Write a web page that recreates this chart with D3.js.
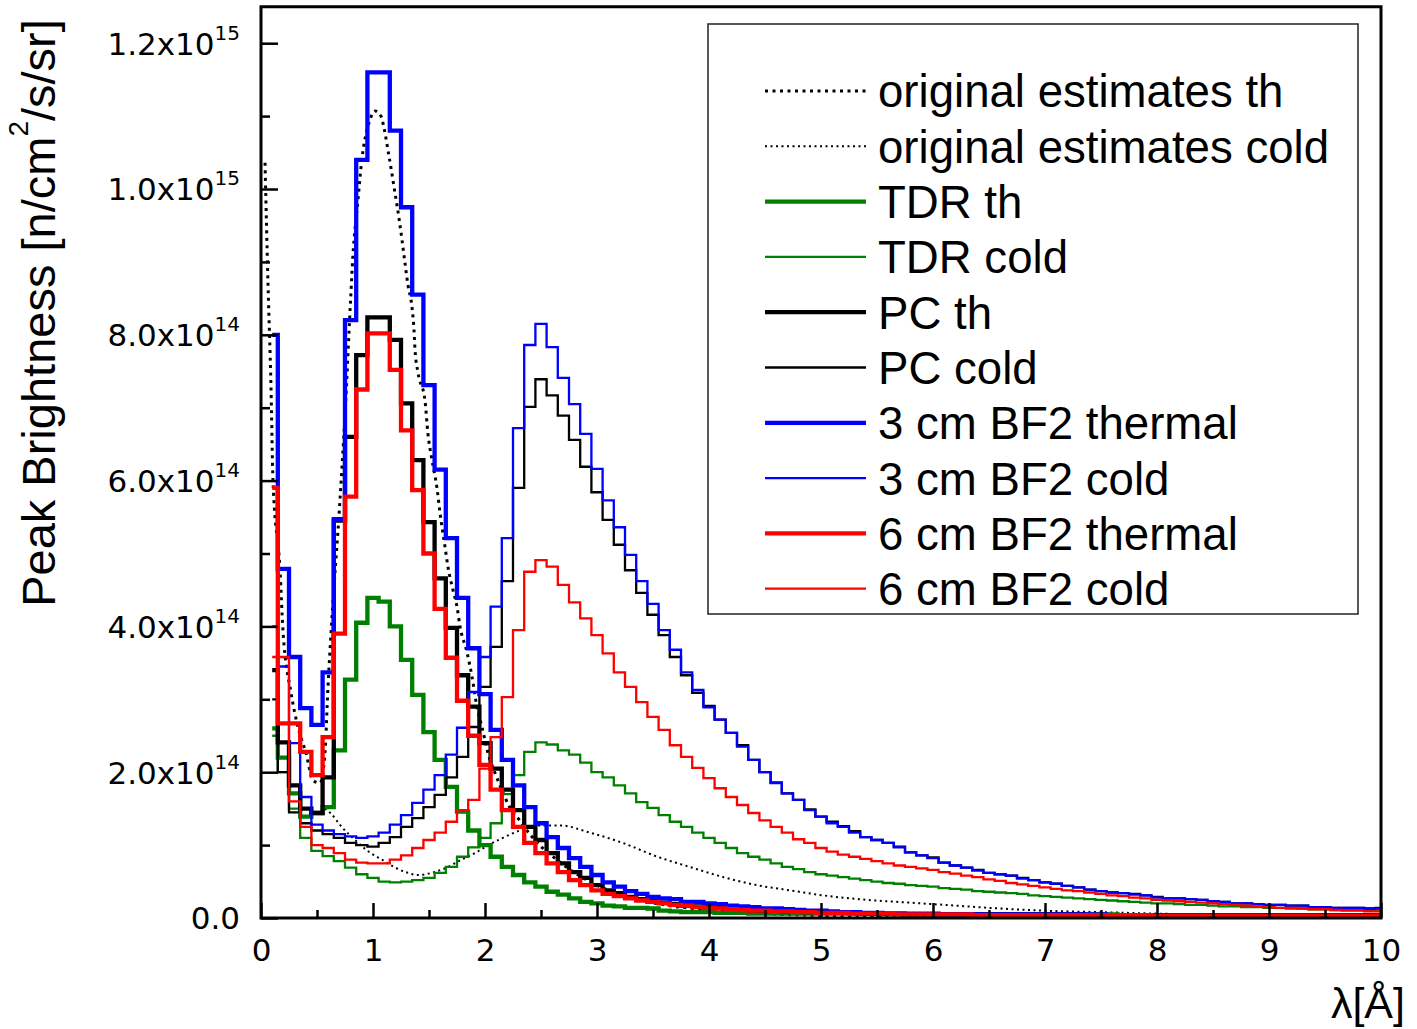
<!DOCTYPE html>
<html><head><meta charset="utf-8">
<script src="https://cdn.jsdelivr.net/npm/d3@7"></script>
<style>body{margin:0;background:#fff;} svg{display:block}</style>
</head><body>
<svg id="chart" width="1417" height="1029"></svg>
<script>
// ---------- DATA (values in units of 1e14 n/cm2/s/sr) ----------
// histogram bin centres: 0.1 ... 10.0 Angstrom
const binLambda = d3.range(1, 101).map(i => i / 10);

const tdrTh = [
 2.6, 2.2, 1.71, 1.39, 1.44, 1.52, 2.3, 3.27, 4.05,
 4.39, 4.34, 4.0, 3.54, 3.06, 2.55, 2.17, 1.8, 1.46, 1.2,
 1.0, 0.84, 0.7, 0.59, 0.49, 0.43, 0.36, 0.32, 0.27, 0.22,
 0.2, 0.17, 0.16, 0.14, 0.14, 0.13, 0.1, 0.09, 0.08, 0.08,
 0.08, 0.07, 0.07, 0.07, 0.06, 0.06, 0.06, 0.06, 0.06, 0.06,
 0.06, 0.06, 0.06, 0.06, 0.06, 0.06, 0.05, 0.05, 0.05, 0.05,
 0.05, 0.05, 0.05, 0.05, 0.05, 0.05, 0.05, 0.05, 0.05, 0.05,
 0.05, 0.05, 0.05, 0.05, 0.05, 0.05, 0.05, 0.04, 0.04, 0.04,
 0.04, 0.04, 0.04, 0.04, 0.04, 0.04, 0.04, 0.04, 0.04, 0.04,
 0.04, 0.04, 0.04, 0.04, 0.04, 0.04, 0.04, 0.04, 0.04, 0.04,
 0.04];
const tdrCold = [
 2.5, 2.0, 1.5, 1.1, 0.92, 0.85, 0.78, 0.69, 0.6,
 0.55, 0.5, 0.49, 0.5, 0.52, 0.55, 0.62, 0.7, 0.84, 0.97,
 1.1, 1.3, 1.7, 1.96, 2.28, 2.41, 2.38, 2.3, 2.24, 2.13,
 2.0, 1.93, 1.82, 1.71, 1.59, 1.51, 1.41, 1.32, 1.25, 1.17,
 1.1, 1.03, 0.96, 0.89, 0.84, 0.8, 0.75, 0.7, 0.67, 0.63,
 0.6, 0.58, 0.56, 0.54, 0.52, 0.5, 0.48, 0.47, 0.45, 0.44,
 0.43, 0.41, 0.4, 0.39, 0.37, 0.36, 0.35, 0.34, 0.33, 0.31,
 0.3, 0.29, 0.28, 0.27, 0.26, 0.25, 0.24, 0.23, 0.22, 0.21,
 0.2, 0.2, 0.19, 0.18, 0.18, 0.17, 0.16, 0.16, 0.15, 0.15,
 0.14, 0.14, 0.13, 0.13, 0.12, 0.12, 0.11, 0.11, 0.11, 0.1,
 0.1];
const pcTh = [
 3.4, 2.41, 1.82, 1.5, 1.44, 1.93, 5.45, 6.6, 7.72,
 8.24, 8.24, 7.93, 7.06, 6.28, 5.43, 4.66, 3.98, 3.33, 2.9,
 2.4, 2.05, 1.76, 1.48, 1.25, 1.07, 0.89, 0.75, 0.63, 0.55,
 0.45, 0.38, 0.34, 0.29, 0.26, 0.23, 0.21, 0.19, 0.17, 0.16,
 0.15, 0.14, 0.13, 0.12, 0.11, 0.1, 0.1, 0.09, 0.09, 0.08,
 0.08, 0.07, 0.07, 0.07, 0.06, 0.06, 0.06, 0.06, 0.05, 0.05,
 0.05, 0.05, 0.05, 0.05, 0.05, 0.05, 0.05, 0.05, 0.05, 0.05,
 0.05, 0.05, 0.05, 0.05, 0.04, 0.04, 0.04, 0.04, 0.04, 0.04,
 0.04, 0.04, 0.04, 0.04, 0.04, 0.04, 0.04, 0.04, 0.04, 0.04,
 0.04, 0.04, 0.04, 0.04, 0.04, 0.04, 0.04, 0.04, 0.04, 0.04,
 0.04];
const pcCold = [
 3.0, 2.0, 1.45, 1.3, 1.2, 1.15, 1.1, 1.03, 1.0,
 0.98, 1.03, 1.11, 1.25, 1.37, 1.52, 1.69, 1.93, 2.21, 2.62,
 3.17, 3.72, 4.62, 5.9, 7.01, 7.39, 7.17, 6.89, 6.56, 6.19,
 5.84, 5.46, 5.12, 4.77, 4.46, 4.16, 3.88, 3.58, 3.33, 3.09,
 2.91, 2.72, 2.54, 2.37, 2.17, 2.0, 1.86, 1.71, 1.62, 1.49,
 1.39, 1.32, 1.26, 1.19, 1.11, 1.07, 1.03, 0.98, 0.9, 0.86,
 0.83, 0.76, 0.72, 0.69, 0.66, 0.62, 0.6, 0.58, 0.55, 0.52,
 0.49, 0.47, 0.44, 0.42, 0.39, 0.37, 0.35, 0.34, 0.33, 0.31,
 0.29, 0.27, 0.27, 0.26, 0.25, 0.23, 0.22, 0.2, 0.2, 0.19,
 0.18, 0.18, 0.17, 0.17, 0.15, 0.15, 0.14, 0.14, 0.14, 0.13,
 0.14];
const bf3Th = [
 8.0, 4.79, 3.58, 2.88, 2.65, 3.37, 5.47, 8.2, 10.4,
 11.6, 11.6, 10.8, 9.75, 8.55, 7.31, 6.15, 5.21, 4.39, 3.7,
 3.07, 2.58, 2.17, 1.82, 1.52, 1.3, 1.11, 0.96, 0.82, 0.7,
 0.59, 0.49, 0.43, 0.37, 0.33, 0.29, 0.27, 0.26, 0.22, 0.22,
 0.2, 0.19, 0.17, 0.16, 0.15, 0.13, 0.13, 0.12, 0.11, 0.1,
 0.1, 0.09, 0.08, 0.08, 0.07, 0.07, 0.06, 0.06, 0.06, 0.06,
 0.06, 0.05, 0.05, 0.05, 0.05, 0.05, 0.05, 0.05, 0.05, 0.05,
 0.05, 0.05, 0.05, 0.05, 0.05, 0.05, 0.04, 0.04, 0.04, 0.04,
 0.04, 0.04, 0.04, 0.04, 0.04, 0.04, 0.04, 0.04, 0.04, 0.04,
 0.04, 0.04, 0.04, 0.04, 0.04, 0.04, 0.04, 0.04, 0.04, 0.04,
 0.04];
const bf3Cold = [
 4.0, 3.45, 2.4, 1.66, 1.28, 1.2, 1.15, 1.12, 1.1,
 1.12, 1.17, 1.28, 1.41, 1.58, 1.76, 1.96, 2.24, 2.61, 3.1,
 3.58, 4.27, 5.21, 6.72, 7.86, 8.15, 7.83, 7.41, 7.05, 6.64,
 6.16, 5.73, 5.36, 4.98, 4.62, 4.31, 3.95, 3.68, 3.37, 3.13,
 2.89, 2.72, 2.54, 2.35, 2.17, 2.0, 1.85, 1.71, 1.62, 1.48,
 1.39, 1.3, 1.25, 1.17, 1.11, 1.07, 1.03, 0.97, 0.9, 0.86,
 0.82, 0.76, 0.72, 0.69, 0.65, 0.62, 0.6, 0.58, 0.54, 0.52,
 0.49, 0.47, 0.44, 0.42, 0.39, 0.37, 0.35, 0.34, 0.32, 0.31,
 0.28, 0.27, 0.27, 0.26, 0.25, 0.23, 0.22, 0.2, 0.2, 0.19,
 0.18, 0.18, 0.17, 0.17, 0.15, 0.15, 0.14, 0.14, 0.14, 0.13,
 0.13];
const bf6Th = [
 5.9, 2.67, 2.67, 2.28, 1.96, 2.48, 3.9, 5.78, 7.25,
 8.02, 8.02, 7.52, 6.69, 5.87, 5.0, 4.24, 3.57, 2.98, 2.5,
 2.1, 1.76, 1.48, 1.25, 1.03, 0.89, 0.75, 0.63, 0.52, 0.45,
 0.38, 0.33, 0.3, 0.27, 0.24, 0.22, 0.2, 0.18, 0.17, 0.15,
 0.14, 0.13, 0.12, 0.11, 0.1, 0.1, 0.09, 0.09, 0.08, 0.08,
 0.07, 0.07, 0.07, 0.06, 0.06, 0.06, 0.06, 0.05, 0.05, 0.05,
 0.05, 0.05, 0.05, 0.05, 0.04, 0.04, 0.04, 0.04, 0.04, 0.04,
 0.04, 0.04, 0.04, 0.04, 0.04, 0.04, 0.04, 0.04, 0.04, 0.04,
 0.03, 0.03, 0.03, 0.03, 0.03, 0.03, 0.03, 0.03, 0.03, 0.03,
 0.03, 0.03, 0.03, 0.03, 0.03, 0.03, 0.03, 0.03, 0.03, 0.03,
 0.03];
const bf6Cold = [
 3.58, 3.58, 1.6, 1.25, 1.0, 0.96, 0.89, 0.8, 0.76,
 0.75, 0.75, 0.8, 0.86, 0.96, 1.07, 1.17, 1.32, 1.48, 1.62,
 2.05, 2.48, 3.03, 3.95, 4.75, 4.91, 4.82, 4.57, 4.33, 4.11,
 3.88, 3.63, 3.37, 3.17, 2.96, 2.76, 2.58, 2.37, 2.21, 2.06,
 1.92, 1.78, 1.66, 1.55, 1.44, 1.34, 1.25, 1.17, 1.08, 1.03,
 0.96, 0.91, 0.87, 0.84, 0.81, 0.78, 0.75, 0.72, 0.7, 0.68,
 0.66, 0.63, 0.61, 0.58, 0.56, 0.53, 0.51, 0.48, 0.46, 0.44,
 0.42, 0.4, 0.38, 0.37, 0.35, 0.33, 0.31, 0.3, 0.28, 0.27,
 0.25, 0.24, 0.23, 0.22, 0.21, 0.2, 0.19, 0.18, 0.17, 0.16,
 0.15, 0.14, 0.14, 0.13, 0.12, 0.12, 0.11, 0.1, 0.1, 0.09,
 0.09];

// original estimates (smooth curves)
const origThLambda = [0.036, 0.0625, 0.089, 0.107, 0.17, 0.196, 0.268, 0.33, 0.402, 0.464, 0.527, 0.571, 0.598, 0.625, 0.705, 0.75, 0.8, 0.82, 0.866, 0.893, 0.973, 1.018, 1.071, 1.098, 1.134, 1.17, 1.196, 1.232, 1.259, 1.286, 1.3125, 1.348, 1.366, 1.375, 1.402, 1.464, 1.49, 1.527, 1.571, 1.598, 1.643, 1.67, 1.714, 1.75, 1.777, 1.84, 1.884, 1.929, 1.973, 2.027, 2.089, 2.15, 2.22, 2.31, 2.4, 2.5, 2.6, 2.8, 3.0, 3.3, 3.6, 4.0, 4.5, 5.0, 6.0, 7.0, 8.0, 9.0, 10.0];
const origTh = [10.36, 8.7, 7.3, 6.0, 4.77, 3.95, 3.09, 2.62, 2.26, 1.89, 1.85, 2.26, 3.17, 3.9, 5.73, 6.9, 8.48, 9.07, 9.85, 10.3, 10.95, 11.07, 11.0, 10.84, 10.53, 10.2, 9.95, 9.6, 9.3, 8.98, 8.68, 8.38, 8.07, 7.8, 7.48, 7.1, 6.65, 6.28, 5.9, 5.56, 5.09, 4.81, 4.5, 4.27, 4.0, 3.64, 3.31, 2.89, 2.62, 2.26, 1.99, 1.76, 1.52, 1.34, 1.15, 0.98, 0.85, 0.62, 0.45, 0.28, 0.18, 0.11, 0.06, 0.035, 0.015, 0.008, 0.005, 0.003, 0.002];
const origColdLambda = [0.57, 0.62, 0.72, 0.84, 0.97, 1.08, 1.2, 1.31, 1.4, 1.55, 1.67, 1.79, 1.91, 2.03, 2.16, 2.31, 2.49, 2.67, 2.94, 3.23, 3.54, 3.83, 4.13, 4.43, 4.72, 5.02, 5.4, 5.8, 6.2, 6.6, 7.0, 7.5, 8.0, 8.5, 9.0];
const origCold = [1.5, 1.44, 1.25, 1.07, 0.9, 0.8, 0.69, 0.62, 0.59, 0.63, 0.7, 0.8, 0.89, 1.0, 1.1, 1.2, 1.27, 1.27, 1.17, 1.03, 0.84, 0.7, 0.56, 0.45, 0.38, 0.31, 0.25, 0.21, 0.17, 0.13, 0.1, 0.08, 0.06, 0.045, 0.035];

const xTicks = [0, 1, 2, 3, 4, 5, 6, 7, 8, 9, 10];
const yTicks = [0, 2, 4, 6, 8, 10, 12];          // x 1e14
const legendNames = ["original estimates th", "original estimates cold", "TDR th", "TDR cold", "PC th", "PC cold",
  "3 cm BF2 thermal", "3 cm BF2 cold", "6 cm BF2 thermal", "6 cm BF2 cold"];

// ---------- STYLES ----------
const GREEN = "#008000", BLUE = "#0000ff", RED = "#ff0000", BLACK = "#000000";
const series = [
  {name: legendNames[0], lam: origThLambda, val: origTh, color: BLACK, w: 3, dash: "3,4.5", step: false},
  {name: legendNames[1], lam: origColdLambda, val: origCold, color: BLACK, w: 2, dash: "2,3.5", step: false},
  {name: legendNames[2], lam: binLambda, val: tdrTh, color: GREEN, w: 4.3, step: true},
  {name: legendNames[3], lam: binLambda, val: tdrCold, color: GREEN, w: 2.3, step: true},
  {name: legendNames[4], lam: binLambda, val: pcTh, color: BLACK, w: 4.3, step: true},
  {name: legendNames[5], lam: binLambda, val: pcCold, color: BLACK, w: 2.3, step: true},
  {name: legendNames[6], lam: binLambda, val: bf3Th, color: BLUE, w: 4.3, step: true},
  {name: legendNames[7], lam: binLambda, val: bf3Cold, color: BLUE, w: 2.3, step: true},
  {name: legendNames[8], lam: binLambda, val: bf6Th, color: RED, w: 4.3, step: true},
  {name: legendNames[9], lam: binLambda, val: bf6Cold, color: RED, w: 2.3, step: true}
];

// ---------- CHART ----------
const svg = d3.select("#chart");
const x = d3.scaleLinear().domain([0, 10]).range([261, 1381]);
const y = d3.scaleLinear().domain([0, 12.5]).range([918, 6.75]);

svg.append("defs").append("clipPath").attr("id", "plotclip")
  .append("rect").attr("x", x(0)).attr("y", y(12.5)).attr("width", x(10) - x(0)).attr("height", y(0) - y(12.5));

const plot = svg.append("g").attr("clip-path", "url(#plotclip)");
series.forEach(s => {
  const pts = s.lam.map((l, i) => [l, s.val[i]]);
  const line = d3.line().x(d => x(d[0])).y(d => y(d[1]))
    .curve(s.step ? d3.curveStep : d3.curveMonotoneX);
  plot.append("path").attr("d", line(pts)).attr("fill", "none")
    .attr("stroke", s.color).attr("stroke-width", s.w)
    .attr("stroke-dasharray", s.dash || null)
    .attr("stroke-linejoin", "miter").attr("stroke-linecap", "butt");
});

// frame
svg.append("rect").attr("x", x(0)).attr("y", y(12.5)).attr("width", x(10) - x(0)).attr("height", y(0) - y(12.5))
  .attr("fill", "none").attr("stroke", "#000").attr("stroke-width", 3);

// x axis
const xAxis = d3.axisBottom(x).tickValues(xTicks).tickSizeInner(-15).tickSizeOuter(0).tickPadding(21)
  .tickFormat(d3.format("d"));
const gx = svg.append("g").attr("transform", `translate(0,${y(0)})`).call(xAxis);
gx.select(".domain").remove();
gx.selectAll(".tick line").attr("stroke-width", 2.5);
gx.selectAll("text").attr("font-family", "DejaVu Sans").attr("font-size", 31).attr("fill", "#000");
const gxm = svg.append("g").attr("transform", `translate(0,${y(0)})`)
  .call(d3.axisBottom(x).tickValues(d3.range(0.5, 10, 1)).tickSizeInner(-8).tickSizeOuter(0).tickFormat(""));
gxm.select(".domain").remove();
gxm.selectAll(".tick line").attr("stroke-width", 2.5);

// y axis
const yAxis = d3.axisLeft(y).tickValues(yTicks).tickSizeInner(-17).tickSizeOuter(0).tickPadding(20).tickFormat("");
const gy = svg.append("g").attr("transform", `translate(${x(0)},0)`).call(yAxis);
gy.select(".domain").remove();
gy.selectAll(".tick line").attr("stroke-width", 2.5);
gy.selectAll(".tick text").each(function(d) {
  const t = d3.select(this).attr("font-family", "DejaVu Sans").attr("font-size", 31).attr("fill", "#000")
    .attr("x", -21).attr("dy", "0.35em");
  if (d === 0) { t.text("0.0"); return; }
  const v = d * 1e14;
  const e = Math.floor(Math.log10(v));
  const m = (v / Math.pow(10, e)).toFixed(1);
  t.append("tspan").text(m + "x10");
  t.append("tspan").attr("font-size", 20).attr("dy", "-0.75em").text(String(e));
});
const gym = svg.append("g").attr("transform", `translate(${x(0)},0)`)
  .call(d3.axisLeft(y).tickValues([1, 3, 5, 7, 9, 11]).tickSizeInner(-9).tickSizeOuter(0).tickFormat(""));
gym.select(".domain").remove();
gym.selectAll(".tick line").attr("stroke-width", 2.5);

// axis titles
svg.append("text").attr("x", 1405).attr("y", 1018).attr("text-anchor", "end")
  .attr("font-family", "Liberation Sans, Arial, sans-serif").attr("font-size", 43).text("λ[Å]");
const yl = svg.append("text").attr("transform", "translate(55,313) rotate(-90)").attr("text-anchor", "middle")
  .attr("font-family", "Liberation Sans, Arial, sans-serif").attr("font-size", 47);
yl.append("tspan").text("Peak Brightness [n/cm");
yl.append("tspan").attr("font-size", 28).attr("dy", "-0.95em").text("2");
yl.append("tspan").attr("dy", "0.57em").text("/s/sr]");

// legend
const lg = svg.append("g");
lg.append("rect").attr("x", 708).attr("y", 24).attr("width", 650).attr("height", 590)
  .attr("fill", "#fff").attr("stroke", "#222").attr("stroke-width", 1.5);
series.forEach((s, i) => {
  const ry = 91 + i * 55.3;
  lg.append("line").attr("x1", 765).attr("x2", 866).attr("y1", ry).attr("y2", ry)
    .attr("stroke", s.color).attr("stroke-width", s.w).attr("stroke-dasharray", s.dash || null);
  lg.append("text").attr("x", 878).attr("y", ry).attr("dy", "0.36em")
    .attr("font-family", "Liberation Sans, Arial, sans-serif").attr("font-size", 45.6).text(s.name);
});
</script>
</body></html>
